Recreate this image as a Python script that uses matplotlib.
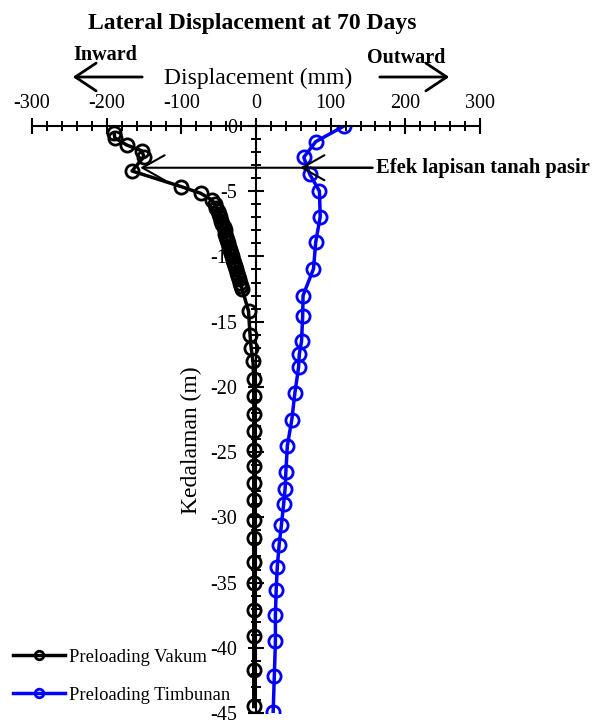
import matplotlib
matplotlib.use("Agg")
import matplotlib.pyplot as plt
from matplotlib.patches import FancyArrowPatch
from matplotlib.ticker import MultipleLocator

plt.rcParams['font.family'] = ['Liberation Serif', 'DejaVu Serif']
plt.rcParams['axes.unicode_minus'] = False

# Preloading Vakum (depth m, displacement mm)
vakum_depth = [-0.56, -0.92, -1.46, -1.9, -2.35, -3.45, -4.65, -5.16, -5.67,
               -6.0, -6.25, -6.5, -6.75, -7.0, -7.25, -7.5, -7.75, -8.0, -8.25,
               -8.5, -8.75, -9.0, -9.25, -9.5, -9.75, -10.0, -10.25, -10.5,
               -10.75, -11.0, -11.25, -11.5, -11.75, -12.0, -12.25, -12.5,
               -14.2, -16.0, -17.0, -18.05, -19.4, -20.7, -22.1, -23.4, -24.8,
               -26.1, -27.4, -28.7, -30.2, -31.6, -33.4, -35.0, -37.1, -39.1,
               -41.7, -44.5]
vakum_disp = [-190, -189, -173, -153, -150, -166, -100, -74, -59,
              -55, -53, -51, -49.5, -48, -46.5, -45, -43.5, -42, -41,
              -40, -38.5, -37, -36, -34.5, -33, -32, -30.5, -29,
              -27.5, -26.5, -25, -24, -22.5, -21, -20, -18.5,
              -10, -8, -6.5, -4, -3, -3, -3, -3, -3,
              -3, -3, -3, -3, -3, -3, -3, -3, -3,
              -3, -3]

# Preloading Timbunan
timb_depth = [0.0, -1.2, -2.4, -3.7, -5.0, -6.95, -8.9, -10.95, -13.0, -14.6,
              -16.5, -17.5, -18.5, -20.5, -22.5, -24.5, -26.5, -27.8, -29.0,
              -30.6, -32.1, -33.8, -35.6, -37.5, -39.5, -42.2, -44.9]
timb_disp = [118, 80, 64, 72, 85, 86, 80, 77, 63, 62.5,
             61, 58, 57, 52, 48, 42, 40, 39, 37,
             34, 31, 28.5, 27, 26, 26, 24.5, 23]

x_ticks = [-300, -200, -100, 0, 100, 200, 300]
y_ticks = [-45, -40, -35, -30, -25, -20, -15, -10, -5, 0]

W, H = 598, 724


def fx(px):
    return px / W


def fy(py):
    return 1 - py / H


fig = plt.figure(figsize=(W / 100, H / 100), dpi=100)
ax = fig.add_axes([fx(32), fy(713), 448 / W, 587 / H])

ax.plot(vakum_disp, vakum_depth, color='black', lw=2.5, marker='o', ms=9.5,
        mfc='none', mew=2.0, label='Preloading Vakum')
ax.plot(timb_disp, timb_depth, color='#0000ff', lw=2.5, marker='o', ms=9.5,
        mfc='none', mew=2.0, label='Preloading Timbunan')

ax.set_xlim(-300, 300)
ax.set_ylim(-45, 0)

ax.spines['left'].set_position(('data', 0))
ax.spines['right'].set_visible(False)
ax.spines['bottom'].set_visible(False)
for s in ('left', 'top'):
    ax.spines[s].set_linewidth(1.5)

ax.xaxis.tick_top()
ax.xaxis.set_label_position('top')
ax.set_xticks(x_ticks)
ax.set_xticklabels([str(v) for v in x_ticks])
ax.set_yticks(y_ticks)
ax.set_yticklabels([str(v) for v in y_ticks])
ax.xaxis.set_minor_locator(MultipleLocator(20))
ax.yaxis.set_minor_locator(MultipleLocator(1))
ax.tick_params(which='major', direction='inout', length=11, width=1.5,
               labelsize=14.5, pad=8)
ax.tick_params(which='minor', direction='inout', length=6.5, width=1.4)
ax.tick_params(axis='x', which='major', pad=3.7)
ax.patch.set_visible(False)

ax.set_xlabel('Displacement (mm)', fontsize=17)
ax.xaxis.set_label_coords(0.5045, 1.0716)
ax.set_ylabel('Kedalaman (m)', fontsize=17)
ax.yaxis.set_label_coords(0.379, 0.465)

fig.text(fx(252), fy(29), 'Lateral Displacement at 70 Days', ha='center',
         va='baseline', fontsize=17, fontweight='bold')
fig.text(fx(105), fy(60), 'Inward', ha='center', va='baseline',
         fontsize=14.5, fontweight='bold')
fig.text(fx(406), fy(63), 'Outward', ha='center', va='baseline',
         fontsize=14.5, fontweight='bold')

head = '->,head_length=0.75,head_width=0.5'
fig.add_artist(FancyArrowPatch((fx(145), fy(77)), (fx(70), fy(77)),
                               transform=fig.transFigure, arrowstyle=head,
                               lw=2.0, color='black', mutation_scale=20))
fig.add_artist(FancyArrowPatch((fx(377), fy(77)), (fx(452), fy(77)),
                               transform=fig.transFigure, arrowstyle=head,
                               lw=2.0, color='black', mutation_scale=20))

# sand layer annotation
ax.text(161, -3.2, 'Efek lapisan tanah pasir', ha='left', va='center',
        fontsize=14.8, fontweight='bold', clip_on=False)
for x_end in (-155, 59):
    ax.annotate('', xy=(x_end, -3.2), xytext=(156, -3.2),
                arrowprops=dict(arrowstyle='->,head_length=0.8,head_width=0.45',
                                lw=1.5, color='black', shrinkA=0, shrinkB=0,
                                mutation_scale=20), zorder=5)

fig.legend(loc='lower left', bbox_to_anchor=(fx(13), fy(704)), frameon=False,
           fontsize=13.4, markerscale=0.65, handlelength=2.8,
           handletextpad=0.2, labelspacing=1.15, borderpad=0,
           borderaxespad=0)

fig.savefig('out.png', dpi=100)
